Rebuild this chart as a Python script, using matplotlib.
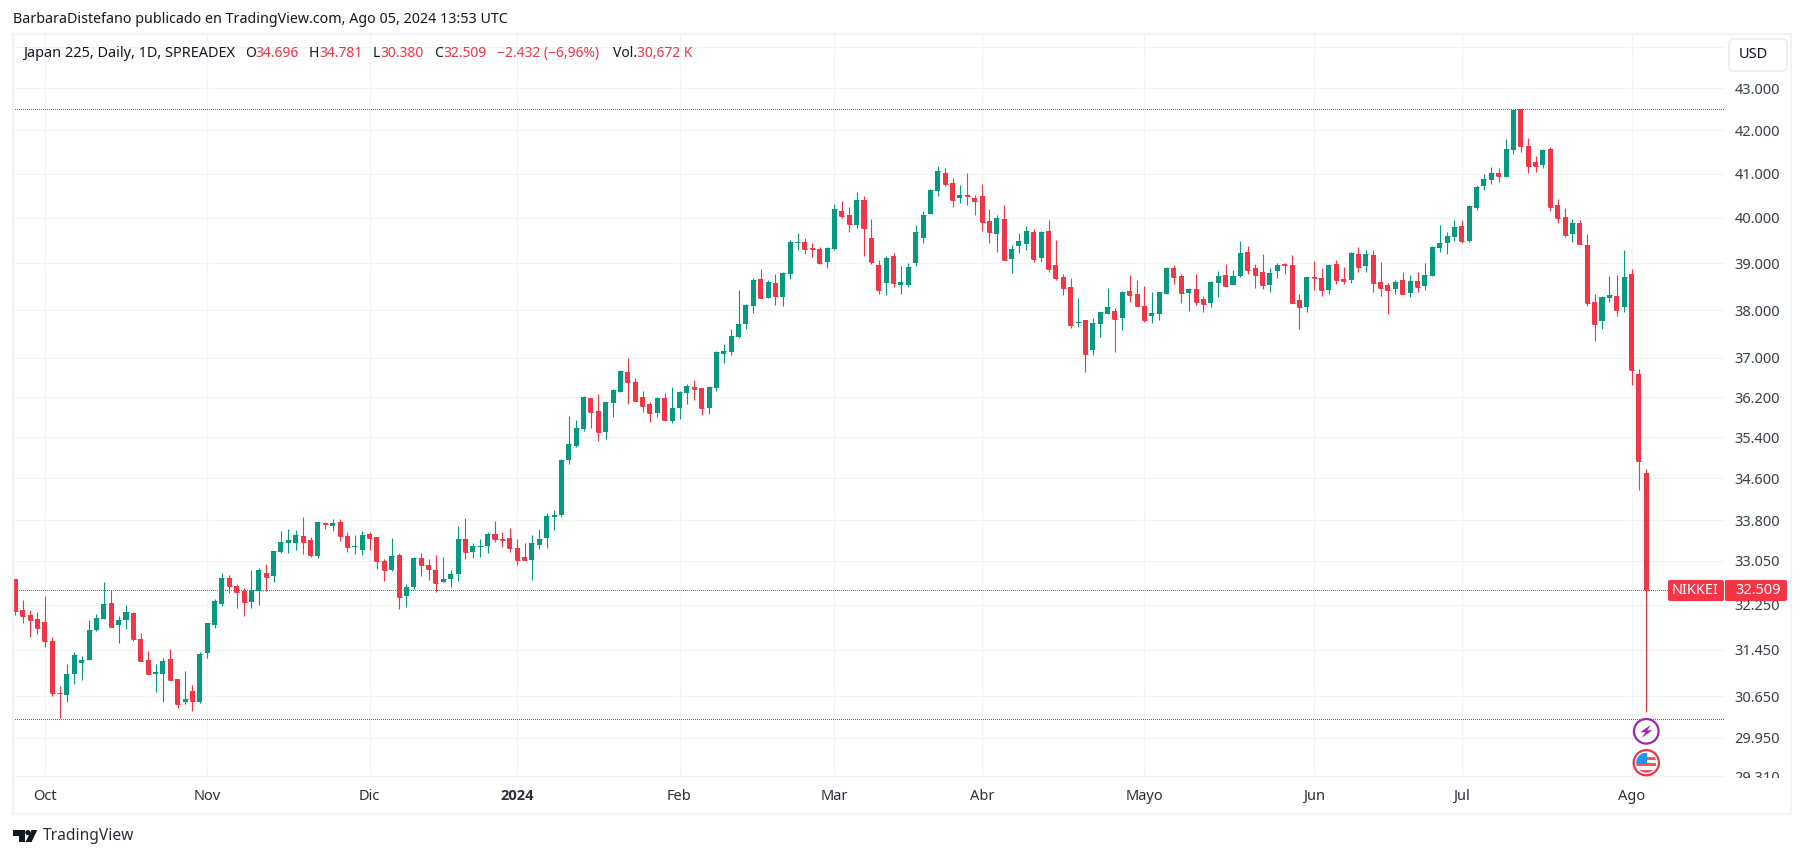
import matplotlib
matplotlib.use('Agg')
import matplotlib.pyplot as plt
import numpy as np
from matplotlib.patches import Rectangle, Circle, Polygon, FancyBboxPatch
from matplotlib.transforms import IdentityTransform, Bbox

opens = [
 32710,32162,32074,32003,31950,31597,30708,30673,31021,31212,
 31264,31791,32003,32286,31880,31968,32109,31633,31264,31038,
 31038,31282,30951,30550,30742,30555,31386,31880,32268,32741,
 32596,32505,32305,32505,32832,32777,33219,33369,33369,33500,
 33425,33144,33744,33688,33763,33500,33294,33256,33538,33481,
 33050,32886,33163,32414,32577,33106,32977,32886,32668,32714,
 32804,33450,33206,33300,33319,33544,33450,33469,33281,33113,
 33056,33338,33469,33864,33902,34949,35231,35567,36187,35927,
 35507,36087,36307,36707,36507,36207,36067,35887,36187,35727,
 35987,36287,36407,36387,35987,36387,37090,37132,37424,37715,
 38094,38659,38246,38572,38268,38768,39442,39464,39333,39311,
 39029,39311,40144,40076,39833,40394,39551,38964,38572,39159,
 38529,38529,39007,39551,40098,40598,41008,40780,40439,40507,
 40439,40485,39942,39638,39986,39094,39377,39420,39681,39116,
 39703,38964,38703,38485,37736,37799,37174,37715,37924,37986,
 37840,38399,38333,38094,37882,37924,38333,38899,38725,38355,
 38442,38224,38159,38572,38747,38529,38725,39246,38899,38812,
 38529,38833,38986,38964,38203,38072,38703,38681,38420,38986,
 38659,38638,39203,38942,39181,38594,38529,38442,38638,38355,
 38616,38507,38725,39333,39442,39572,39812,39485,40212,40712,
 40848,41008,40917,41543,42491,41636,41264,41194,41566,40280,
 40030,39638,39877,39399,38181,37778,38246,38290,38072,38768,
 36670,34696]
highs = [
 32717,32341,32162,32127,32414,31668,30829,31195,31404,31334,
 31968,32091,32668,32523,32056,32250,32127,31738,31438,31195,
 31299,31456,30951,31090,30847,31404,31915,32359,32832,32795,
 32632,32559,32886,32923,32995,33238,33594,33631,33613,33856,
 33481,33763,33763,33819,33819,33575,33519,33594,33575,33481,
 33088,33463,33200,32632,33125,33200,33088,33163,33125,32876,
 33694,33844,33375,33450,33581,33788,33581,33656,33450,33375,
 33525,33638,33940,33997,34968,35827,35747,36227,36187,36267,
 36107,36367,36747,37007,36587,36327,36107,36207,36287,36407,
 36327,36467,36547,36387,36427,37153,37298,37611,38420,38138,
 38681,38877,38638,38768,38812,39507,39659,39551,39442,39355,
 39355,40303,40371,40235,40576,40485,39986,39072,39159,39225,
 38942,39007,39833,40144,40644,41167,41122,40894,40735,41008,
 40507,40757,40189,40076,40280,39399,39659,39812,39746,39703,
 39964,39507,38768,38681,38246,37799,37840,37965,38464,38051,
 38399,38746,38638,38507,38377,38377,38920,38964,38768,38464,
 38768,38290,38616,38833,38986,38855,39485,39377,38986,39203,
 38899,39007,39007,39181,38333,38703,39051,38899,38986,39073,
 38920,39246,39355,39290,39290,39029,38572,38638,38812,38747,
 38812,39007,39377,39833,39681,39964,39964,40295,40735,40985,
 41147,41124,41798,42491,42491,41822,41403,41566,41612,40417,
 40212,39986,39964,39638,38333,38290,38725,38746,39290,38877,
 36770,34781]
lows = [
 32062,31915,31668,31721,31491,30656,30280,30555,30864,30934,
 31264,31774,32003,31844,31562,31809,31597,31247,31021,30725,
 30555,30934,30455,30522,30389,30539,31299,31827,32232,32468,
 32197,32056,32197,32250,32505,32668,33200,33200,33256,33181,
 33125,33106,33631,33594,33406,33219,33181,33163,33256,32905,
 32686,32868,32179,32215,32541,32777,32705,32487,32668,32570,
 32678,33075,33094,33113,33188,33394,33300,33206,32966,33056,
 32696,33263,33281,33619,33864,34870,35212,35526,35587,35328,
 35367,35807,36307,36067,36127,35907,35707,35807,35747,35687,
 35767,36067,36147,35847,35867,36327,36887,37067,37403,37611,
 37944,38246,38246,38116,38094,38659,39290,39203,39138,38986,
 38899,39290,40008,39681,39768,39159,38986,38333,38312,38486,
 38333,38486,38942,39442,40098,40485,40712,40235,40325,40280,
 40076,39703,39442,39246,39072,38790,39225,39290,39029,39029,
 38812,38638,38312,37632,37653,36721,37069,37424,37924,37132,
 37570,38181,38094,37757,37736,37799,38333,38551,38159,37986,
 38116,37965,38072,38268,38507,38529,38703,38768,38464,38442,
 38377,38681,38768,38159,37611,37965,38420,38290,38333,38551,
 38551,38572,38812,38812,38377,38290,37924,38333,38333,38268,
 38377,38420,38725,39246,39203,39485,39442,39464,40167,40621,
 40757,40803,40917,41450,41496,41008,41031,41124,40144,39877,
 39572,39464,39420,38094,37341,37611,38181,37882,37965,36447,
 34380,30380]
closes = [
 32132,32056,31985,31827,31597,30708,30696,31038,31351,31264,
 31791,32021,32268,31844,31985,32127,31633,31247,31021,31056,
 31247,30934,30522,30606,30572,31369,31915,32323,32741,32596,
 32487,32305,32523,32886,32759,33238,33388,33425,33519,33388,
 33163,33763,33731,33744,33500,33294,33313,33519,33463,33050,
 32886,33144,32395,32577,33106,32977,32905,32650,32723,32804,
 33450,33206,33319,33319,33544,33450,33431,33281,33056,33056,
 33375,33450,33883,33902,34949,35270,35587,36207,35907,35507,
 36107,36347,36727,36507,36127,36027,35887,36187,35747,35987,
 36307,36427,36367,35987,36407,37132,37153,37465,37715,38116,
 38638,38246,38594,38290,38790,39464,39464,39311,39311,39007,
 39333,40190,40053,39855,40394,39768,39029,38420,39116,38572,
 38594,38920,39681,40076,40621,41053,40757,40394,40507,40492,
 40371,39920,39681,40008,39072,39311,39486,39703,39094,39681,
 38877,38681,38464,37695,37757,37091,37736,37965,38072,37820,
 38377,38312,38094,37799,37944,38377,38899,38703,38355,38442,
 38181,38137,38594,38725,38507,38725,39225,38855,38747,38529,
 38790,38964,38971,38159,38072,38703,38681,38420,38964,38638,
 38616,39225,38920,39203,38572,38464,38420,38594,38333,38616,
 38486,38747,39355,39442,39594,39790,39485,40258,40689,40871,
 41008,40939,41566,42476,41636,41171,41171,41543,40234,40008,
 39616,39877,39420,38159,37715,38268,38312,38007,38703,36747,
 34941,32509]

month_labels = ['Oct','Nov','Dic','2024','Feb','Mar','Abr','Mayo','Jun','Jul','Ago']
month_bars = [4,26,48,68,90,111,131,153,176,196,219]
price_ticks = [44000,43000,42000,41000,40000,39000,38000,37000,36200,35400,34600,
               33800,33050,32250,31450,30650,29950,29310]
price_labels = ['','43.000','42.000','41.000','40.000','39.000','38.000','37.000','36.200',
                '35.400','34.600','33.800','33.050','32.250','31.450','30.650','29.950','29.310']
high_line = 42494
low_line = 30270
last_price = 32509

GREEN = '#089981'
RED = '#F23645'
GRID = '#F1F3F6'
W, H = 1804, 858
FONT = 'Noto Sans'
TXT = '#131722'

fig = plt.figure(figsize=(W/100, H/100), dpi=100, facecolor='white')
L, R, T, B = 13.3, 1724.0, 35.0, 777.5
ax = fig.add_axes([L/W, 1-B/H, (R-L)/W, (B-T)/H])
ax.set_yscale('log')

x = np.arange(len(opens))
o, h, l, c = map(np.array, (opens, highs, lows, closes))
cols = [RED if cc < oo else GREEN for oo, cc in zip(o, c)]

ax.vlines(x, l, h, colors=cols, linewidth=0.8, zorder=3)
ax.bar(x, np.abs(c-o), bottom=np.minimum(o, c), width=0.68, color=cols, linewidth=0, zorder=3)
ax.hlines(c, x-0.34, x+0.34, colors=cols, linewidth=0.72, zorder=3)

for val, col in [(high_line, '#6A6D78'), (low_line, '#6A6D78'), (last_price, RED)]:
    ax.axhline(val, color=col, lw=0.72, ls=(0, (1, 2)), antialiased=False, zorder=4)

ax.set_xlim((L-15.3)/7.38, (R-15.3)/7.38)
ax.set_ylim(42000*np.exp(-(B-130.3)/1796), 42000*np.exp((130.3-T)/1796))

ax.minorticks_off()
ax.yaxis.tick_right()
ax.set_yticks(price_ticks)
ax.set_yticklabels(price_labels, fontfamily=FONT, fontsize=10.5, color='#3A3E4A')
ax.set_xticks(month_bars)
ax.set_xticklabels(month_labels, fontfamily=FONT, fontsize=10.5, color='#2A2E39')
ax.tick_params(axis='y', length=0, pad=7.5)
ax.tick_params(axis='x', length=0, pad=8)
ax.minorticks_off()
for lab, t in zip(ax.get_xticklabels(), month_labels):
    if t == '2024':
        lab.set_fontfamily('Open Sans')
        lab.set_fontweight('bold')
clipbox = Bbox([[R, H-B-0.5], [1790, H-T]])
for lab in ax.get_yticklabels():
    lab.set_clip_on(True)
    lab.set_clip_box(clipbox)

ax.grid(True, color=GRID, lw=0.8, zorder=0)
ax.set_axisbelow(True)
for s in ax.spines.values():
    s.set_visible(False)

pt = IdentityTransform()
def P(px, py):
    return (px, H-py)

def put(px, py, s, color=TXT, size=10.0, ha='left', weight='normal', fam=FONT):
    fig.text(px, H-py, s, transform=pt, color=color, fontsize=size, ha=ha, va='center',
             fontfamily=fam, fontweight=weight, zorder=6)

def add(patch, z=2):
    patch.set_transform(pt)
    patch.set_zorder(z)
    fig.add_artist(patch)
    return patch

# outer border
add(Rectangle(P(12.7, 814), 1790.5-12.7, 814-34.2, fill=False, ec='#F0F3FA', lw=1.6))

# header
put(13, 19.5, 'BarbaraDistefano publicado en TradingView.com, Ago 05, 2024 13:53 UTC', size=10.28)
put(23, 53.5, 'Japan 225, Daily, 1D, SPREADEX', size=10.45)
for px, s, col in [(245, 'O', TXT), (255, '34.696', RED), (308.7, 'H', TXT), (319.4, '34.781', RED),
                   (372.7, 'L', TXT), (380.6, '30.380', RED), (434, 'C', TXT), (443.5, '32.509', RED),
                   (497, '\u22122.432 (\u22126,96%)', RED), (612.6, 'Vol.', TXT), (637, '30,672 K', RED)]:
    put(px, 53.5, s, color=col, size=10.0)

# USD button
add(FancyBboxPatch(P(1733, 67), 50, 24, boxstyle='round,pad=4,rounding_size=5', fc='white', ec='#E8EAF0', lw=1.0), 2)
put(1753, 55, 'USD', ha='center', size=10.5)

# last price tag
add(FancyBboxPatch(P(1670, 599), 52, 17, boxstyle='round,pad=2,rounding_size=2', fc=RED, ec='none'), 2)
add(FancyBboxPatch(P(1726.5, 599), 58.5, 17, boxstyle='round,pad=2,rounding_size=2', fc=RED, ec='none'), 2)
add(Rectangle(P(1723.5, 601), 1.0, 21, fc='white', ec='none'), 3)
put(1695, 591, 'NIKKEI', color='white', ha='center', size=10.5)
put(1758, 591, '32.509', color='white', ha='center', size=10.5)

# event icons
cx = 1646.3
add(Circle(P(cx, 731.3), 12.3, fc='white', ec='#9C27B0', lw=1.6), 2)
add(Polygon([P(cx+4.5, 731.3-6.5), P(cx-6, 731.3+1), P(cx-1, 731.3+1), P(cx-4.5, 731.3+6.5),
             P(cx+6, 731.3-1), P(cx+1, 731.3-1)], closed=True, fc='#9C27B0', ec='none'), 3)
fy = 762.7
add(Circle(P(cx, fy), 12.6, fc='white', ec=RED, lw=1.6), 2)
clipc = Circle(P(cx, fy), 10, transform=pt)
for sy in [fy+10, fy+3, fy-3]:
    sx = cx if sy == fy-3 else cx-10
    p = add(Rectangle(P(sx, sy), 20, 3, fc='#F7525F', ec='none'), 3)
    p.set_clip_path(clipc)
p = add(Rectangle(P(cx-10, fy+1), 10.5, 11, fc='#2196F3', ec='none'), 3)
p.set_clip_path(clipc)

# TradingView logo
add(Polygon([P(13, 830), P(24.5, 830), P(24.5, 842), P(18.5, 842), P(18.5, 835.5), P(13, 835.5)],
            closed=True, fc=TXT, ec='none'), 2)
add(Circle(P(27.8, 832.6), 2.6, fc=TXT, ec='none'), 2)
add(Polygon([P(31.5, 830), P(37.3, 830), P(31.5, 842), P(25.5, 842)], closed=True, fc=TXT, ec='none'), 2)
put(42.7, 836, 'TradingView', size=11.2, color='#2A2E39')

fig.savefig('out.png', dpi=100, facecolor='white')
